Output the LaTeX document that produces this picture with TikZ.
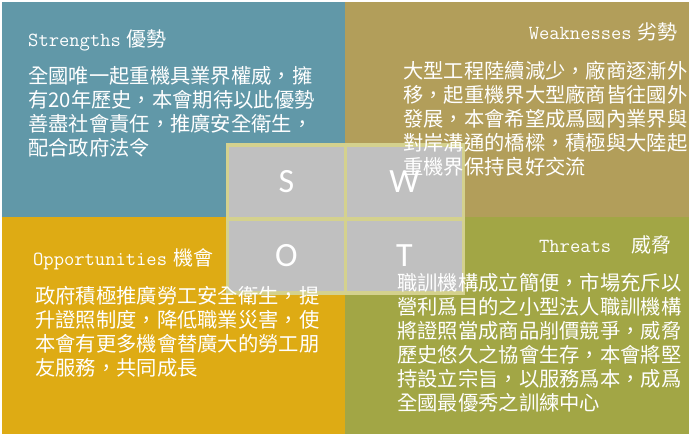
\documentclass[tikz,border=0pt]{standalone}
\usepackage{fontspec}
\usepackage{xcolor}
\usepackage{tikz}
\usetikzlibrary{positioning}
\newfontfamily\cjk{Noto Sans CJK TC}
\newfontfamily\swotfont{Carlito}
\definecolor{steal}{RGB}{97,152,168}
\definecolor{wkhaki}{RGB}{178,158,90}
\definecolor{ogold}{RGB}{222,171,20}
\definecolor{tolive}{RGB}{162,166,69}
\definecolor{cellgrey}{RGB}{192,192,192}
\definecolor{gridline}{RGB}{212,209,142}

\begin{document}
\begin{tikzpicture}[x=1pt, y=-1pt,
    quad/.style={rectangle, inner sep=0pt, outer sep=0pt, minimum width=343pt, minimum height=215pt},
    cell/.style={rectangle, draw=gridline, line width=3.5pt, fill=cellgrey, minimum width=118pt, minimum height=74pt, inner sep=0pt, outer sep=0pt, text=white, font=\swotfont\fontsize{34}{34}\selectfont},
    title/.style={inner sep=0pt, text=white, font=\fontsize{20}{24}\selectfont},
    body/.style={inner sep=0pt, text=white, align=left, font=\cjk\fontsize{20.3}{24}\selectfont},
]
    \useasboundingbox[fill=white] (0,0) rectangle (691,434);

    % four quadrants
    \node[quad, fill=steal, anchor=north west] (sq) at (2,2) {};
    \node[quad, fill=wkhaki, minimum width=344pt, right=0pt of sq] (wq) {};
    \node[quad, fill=ogold, minimum height=217pt, below=0pt of sq] (oq) {};
    \node[quad, fill=tolive, minimum width=344pt, minimum height=217pt, right=0pt of oq] (tq) {};

    % SWOT grid
    \node[cell] (sc) at (286.5,182) {S};
    \node[cell, right=0pt of sc] (wc) {W};
    \node[cell, below=0pt of sc] (oc) {O};
    \node[cell, right=0pt of oc] (tc) {T};

    % Strengths (base = last line)
    \node[title, anchor=base west] (st) at (28,46) {{\ttfamily Strengths} {\cjk 優勢}};
    \node[body, anchor=base west] (sb) at (28,155) {全國唯一起重機具業界權威，擁\\有20年歷史，本會期待以此優勢\\善盡社會責任，推廣安全衛生，\\配合政府法令};

    % Weaknesses
    \node[title, anchor=base east] (wt) at (678,39.5) {{\ttfamily Weaknesses} {\cjk 劣勢}};
    \node[body, anchor=base west] (wb) at (403,174) {大型工程陸續減少，廠商逐漸外\\移，起重機界大型廠商皆往國外\\發展，本會希望成爲國內業界與\\對岸溝通的橋樑，積極與大陸起\\重機界保持良好交流};

    % Opportunities
    \node[title, anchor=base west] (ot) at (33,265) {{\ttfamily Opportunities} {\cjk 機會}};
    \node[body, anchor=base west] (ob) at (35,375) {政府積極推廣勞工安全衛生，提\\升證照制度，降低職業災害，使\\本會有更多機會替廣大的勞工朋\\友服務，共同成長};

    % Threats
    \node[title, anchor=base east] (tt) at (672,252) {{\ttfamily Threats\ \ }{\cjk 威脅}};
    \node[body, anchor=base west] (tb) at (397,410) {職訓機構成立簡便，市場充斥以\\營利爲目的之小型法人職訓機構\\將證照當成商品削價競爭，威脅\\歷史悠久之協會生存，本會將堅\\持設立宗旨，以服務爲本，成爲\\全國最優秀之訓練中心};
\end{tikzpicture}
\end{document}
